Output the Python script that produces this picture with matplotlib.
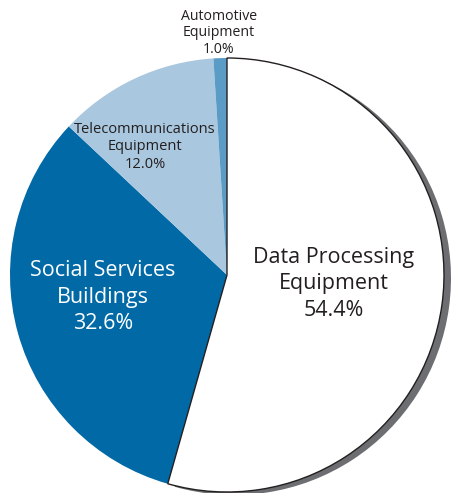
import matplotlib.pyplot as plt
from matplotlib.patches import Wedge

labels = ['Data Processing\nEquipment', 'Social Services\nBuildings',
          'Telecommunications\nEquipment', 'Automotive\nEquipment']
shares = [54.4, 32.6, 12.0, 1.0]
colors = ['#FFFFFF', '#0069A6', '#A9C7DE', '#5B9CC6']

plt.rcParams['font.family'] = ['Open Sans', 'DejaVu Sans']

fig = plt.figure(figsize=(4.51, 4.93), dpi=100)
ax = fig.add_axes([0, 0, 1, 1])

cx, cy, r = 227, 218, 217
wedges, _ = ax.pie(shares, colors=colors, startangle=90, counterclock=False,
                   center=(cx, cy), radius=r, frame=True,
                   wedgeprops=dict(linewidth=0))
ax.set_xlim(0, 451)
ax.set_ylim(0, 493)
ax.set_aspect('equal')
ax.axis('off')

# shadow + outline on the big slice
w0 = wedges[0]
shadow = Wedge((cx + 7, cy - 3), r, w0.theta1, w0.theta2, facecolor='#6D6E71',
               edgecolor='none', zorder=0.5)
ax.add_patch(shadow)
w0.set_zorder(1.5)
w0.set_edgecolor('#231F20')
w0.set_linewidth(1.0)

dark = '#231F20'
ax.text(334, 493 - 284, labels[0] + '\n' + f'{shares[0]}%', ha='center', va='center',
        fontsize=15.5, color=dark, linespacing=1.33, zorder=3)
ax.text(103, 493 - 297, labels[1] + '\n' + f'{shares[1]}%', ha='center', va='center',
        fontsize=15.5, color='white', linespacing=1.33, zorder=3)
ax.text(145, 493 - 147, labels[2] + '\n' + f'{shares[2]}%', ha='center', va='center',
        fontsize=10.5, color=dark, linespacing=1.25, zorder=3)
ax.text(219, 493 - 33, labels[3] + '\n' + f'{shares[3]}%', ha='center', va='center',
        fontsize=10.2, color=dark, linespacing=1.1, zorder=3)

fig.savefig('out.png', dpi=100)
